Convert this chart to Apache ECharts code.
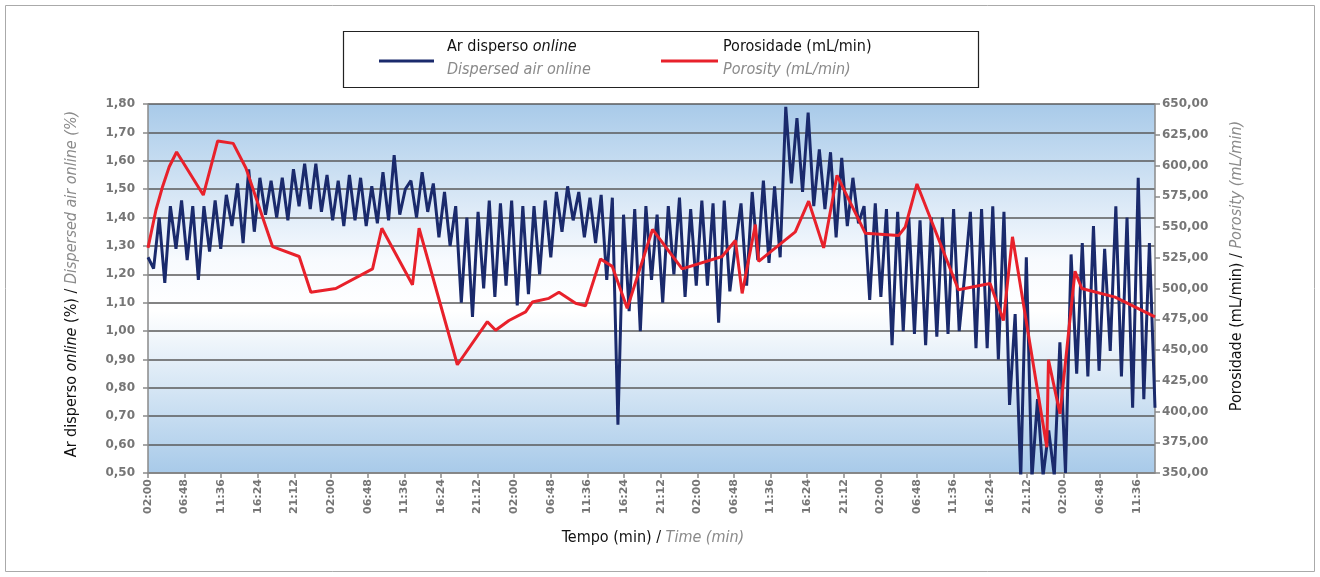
<!DOCTYPE html>
<html><head><meta charset="utf-8">
<script src="https://cdn.jsdelivr.net/npm/echarts@6/dist/echarts.min.js"></script>
<style>html,body{margin:0;padding:0;background:#fff}#c{width:1320px;height:577px}</style>
</head><body><div id="c"></div>
<script>
// X tick labels (every 288 min = 4h48)
const tickLabels = ['02:00','06:48','11:36','16:24','21:12'];
const tickStep = 288;          // minutes between ticks
const sampleStep = 44;         // minutes between blue samples
const xMax = 7920;             // minutes shown

// Ar disperso online (%), one value per 44 min
const dispersedAir = [
1.26,1.22,1.40,1.17,1.44,1.29,1.46,1.25,1.44,1.18,
1.44,1.28,1.46,1.29,1.48,1.37,1.52,1.31,1.57,1.35,
1.54,1.41,1.53,1.40,1.54,1.39,1.57,1.44,1.59,1.43,
1.59,1.42,1.55,1.39,1.53,1.37,1.55,1.39,1.54,1.37,
1.51,1.38,1.56,1.39,1.62,1.41,1.50,1.53,1.40,1.56,
1.42,1.52,1.33,1.49,1.30,1.44,1.10,1.40,1.05,1.42,
1.15,1.46,1.12,1.45,1.16,1.46,1.09,1.44,1.13,1.44,
1.20,1.46,1.26,1.49,1.35,1.51,1.39,1.49,1.33,1.47,
1.31,1.48,1.18,1.47,0.67,1.41,1.07,1.43,1.00,1.44,
1.18,1.41,1.10,1.44,1.20,1.47,1.12,1.43,1.16,1.46,
1.16,1.45,1.03,1.46,1.14,1.30,1.45,1.16,1.49,1.25,
1.53,1.24,1.51,1.26,1.79,1.52,1.75,1.49,1.77,1.44,
1.64,1.43,1.63,1.33,1.61,1.37,1.54,1.38,1.44,1.11,
1.45,1.12,1.43,0.95,1.42,1.00,1.40,0.99,1.39,0.95,
1.40,0.98,1.40,0.99,1.43,1.00,1.20,1.42,0.94,1.43,
0.94,1.44,0.90,1.42,0.74,1.06,0.48,1.26,0.48,0.76,
0.49,0.65,0.49,0.96,0.50,1.27,0.85,1.31,0.84,1.37,
0.86,1.29,0.93,1.44,0.84,1.40,0.73,1.54,0.76,1.31,
0.73
];

// Porosidade (mL/min) – [minute, value]
const porosityMinutes = [0,63,115,167,225,435,548,670,770,980,1189,1281,1477,1766,1839,2080,2132,2433,2669,2734,2839,2970,3023,3153,3232,3363,3441,3559,3651,3769,3968,4201,4515,4620,4673,4777,4803,5091,5196,5314,5419,5641,5903,5956,6048,6374,6623,6728,6799,7069,7082,7173,7291,7344,7606,7920];
const porosityValues  = [533,564,583,599,611,576,620,618,598,534,526,497,500,516,549,503,549,438,473,466,474,481,489,492,497,488,486,524,518,484,548,516,526,539,496,552,522,546,571,533,592,545,543,550,585,499,504,474,542,371,442,398,514,500,493,477];

const BLUE = '#1a2a6c', RED = '#e8212b', GREY_TXT = '#8a8a8a', LBL = '#767676';
const FONT = "'Liberation Sans Narrow','Arial Narrow','DejaVu Sans Condensed',Roboto,sans-serif";
const fmt = v => v.toFixed(2).replace('.', ',');

const chart = echarts.init(document.getElementById('c'), null, {renderer:'canvas'});
chart.setOption({
  animation:false,
  backgroundColor:'#fff',
  grid:{left:148,right:165,top:104,bottom:104,show:true,borderWidth:0,
    backgroundColor:new echarts.graphic.LinearGradient(0,0,0,1,[
      {offset:0,color:'#a8cae9'},{offset:0.42,color:'#f7fafe'},{offset:0.56,color:'#ffffff'},{offset:1,color:'#a8cae9'}])},
  xAxis:{type:'value',min:0,max:xMax,interval:tickStep,
    axisLine:{show:true,onZero:false,lineStyle:{color:'#8a8a8a',width:1.5}},
    axisTick:{show:true,length:5,lineStyle:{color:'#8a8a8a',width:1.5}},
    splitLine:{show:false},
    axisLabel:{rotate:90,margin:6,color:LBL,fontFamily:'DejaVu Sans',fontWeight:'bold',fontSize:11,showMaxLabel:false,
      formatter:v=> (v % tickStep === 0) ? tickLabels[Math.round(v/tickStep)%5] : ''}},
  yAxis:[
    {type:'value',min:0.5,max:1.8,interval:0.1,position:'left',
      axisLine:{show:true,lineStyle:{color:'#8a8a8a',width:1.5}},
      axisTick:{show:true,length:5,lineStyle:{color:'#8a8a8a',width:1.5}},
      splitLine:{show:true,lineStyle:{color:'#5a5a5a',width:1.6}},
      axisLabel:{margin:13,color:LBL,fontFamily:'DejaVu Sans',fontWeight:'bold',fontSize:12,formatter:fmt}},
    {type:'value',min:350,max:650,interval:25,position:'right',
      axisLine:{show:true,lineStyle:{color:'#8a8a8a',width:1.5}},
      axisTick:{show:true,length:5,lineStyle:{color:'#8a8a8a',width:1.5}},
      splitLine:{show:false},
      axisLabel:{margin:7,color:LBL,fontFamily:'DejaVu Sans',fontWeight:'bold',fontSize:12,formatter:fmt}}
  ],
  series:[
    {type:'line',name:'Ar disperso online',yAxisIndex:0,showSymbol:false,symbol:'none',
      data:dispersedAir.map((v,i)=>[i*sampleStep,v]),
      lineStyle:{color:BLUE,width:3},z:3},
    {type:'line',name:'Porosidade (mL/min)',yAxisIndex:1,showSymbol:false,symbol:'none',
      data:porosityMinutes.map((m,i)=>[m,porosityValues[i]]),
      lineStyle:{color:RED,width:3},z:4}
  ],
  graphic:[
    {type:'rect',shape:{x:5.5,y:5.5,width:1309,height:566},style:{fill:'none',stroke:'#aaa',lineWidth:1},silent:true},
    {type:'rect',shape:{x:343.5,y:31.5,width:635,height:56},style:{fill:'#fff',stroke:'#222',lineWidth:1.2},silent:true},
    {type:'line',shape:{x1:379,y1:61,x2:434,y2:61},style:{stroke:BLUE,lineWidth:3}},
    {type:'line',shape:{x1:661,y1:61,x2:718,y2:61},style:{stroke:RED,lineWidth:3}},
    {type:'text',x:447,y:47,style:{text:'{n|Ar disperso }{i|online}',verticalAlign:'middle',
      rich:{n:{fontFamily:FONT,fontSize:16,fill:'#111'},i:{fontFamily:FONT,fontSize:16,fontStyle:'italic',fill:'#111'}}}},
    {type:'text',x:447,y:70,style:{text:'Dispersed air online',verticalAlign:'middle',fontFamily:FONT,fontSize:16,fontStyle:'italic',fill:GREY_TXT}},
    {type:'text',x:723,y:47,style:{text:'Porosidade (mL/min)',verticalAlign:'middle',fontFamily:FONT,fontSize:16,fill:'#111'}},
    {type:'text',x:723,y:70,style:{text:'Porosity (mL/min)',verticalAlign:'middle',fontFamily:FONT,fontSize:16,fontStyle:'italic',fill:GREY_TXT}},
    {type:'text',x:72,y:284,rotation:Math.PI/2,style:{text:'{n|Ar disperso }{i|online}{n| (%) / }{g|Dispersed air online (%)}',align:'center',verticalAlign:'middle',
      rich:{n:{fontFamily:FONT,fontSize:16,fill:'#111'},i:{fontFamily:FONT,fontSize:16,fontStyle:'italic',fill:'#111'},g:{fontFamily:FONT,fontSize:16,fontStyle:'italic',fill:GREY_TXT}}}},
    {type:'text',x:1237,y:266,rotation:Math.PI/2,style:{text:'{n|Porosidade (mL/min) / }{g|Porosity (mL/min)}',align:'center',verticalAlign:'middle',
      rich:{n:{fontFamily:FONT,fontSize:16,fill:'#111'},g:{fontFamily:FONT,fontSize:16,fontStyle:'italic',fill:GREY_TXT}}}},
    {type:'text',x:653,y:538,style:{text:'{n|Tempo (min) / }{g|Time (min)}',align:'center',verticalAlign:'middle',
      rich:{n:{fontFamily:FONT,fontSize:16,fill:'#111'},g:{fontFamily:FONT,fontSize:16,fontStyle:'italic',fill:GREY_TXT}}}}
  ]
});
</script></body></html>
